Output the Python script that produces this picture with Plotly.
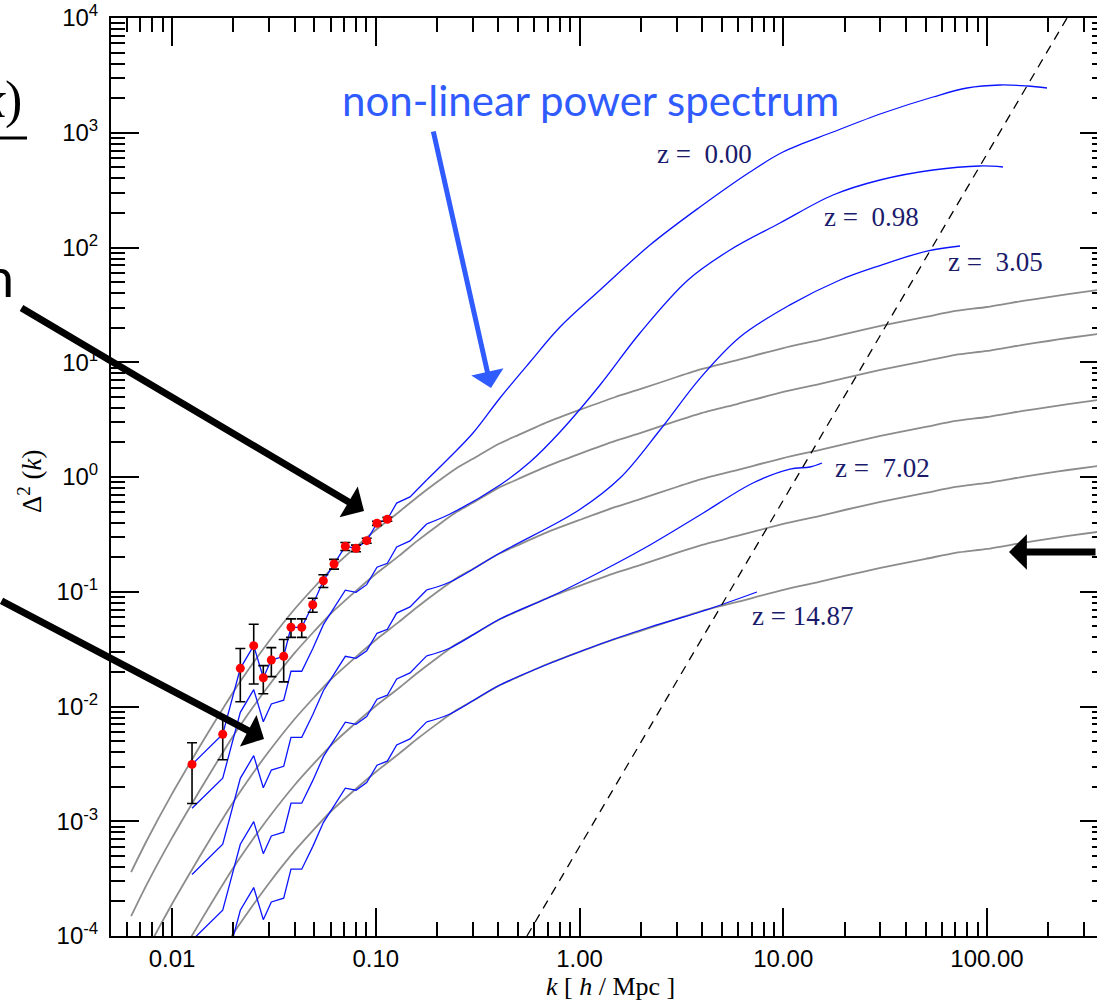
import plotly.graph_objects as go

# ---------------- data ----------------
# measured z=0 band powers with 1-sigma errors
data_k = [0.01254, 0.01774, 0.02164, 0.02518, 0.02806, 0.03073, 0.03533, 0.03837, 0.04332,
          0.04906, 0.05531, 0.0624, 0.0709, 0.0800, 0.0903, 0.1014, 0.1140]
data_d = [0.00313, 0.00573, 0.0215, 0.0339, 0.0178, 0.0254, 0.0274, 0.0490, 0.0490,
          0.0771, 0.1248, 0.1745, 0.249, 0.239, 0.2786, 0.395, 0.428]
data_err = [0.0017, 0.0023, 0.0105, 0.0182, 0.0049, 0.0072, 0.011, 0.009, 0.009,
            0.0108, 0.0158, 0.017, 0.020, 0.016, 0.014, 0.016, 0.017]

# low-k wavenumbers shared by the non-linear curves (jagged part)
nl_k_low = data_k + [0.1267, 0.1473, 0.1778]

# non-linear spectra (blue): jagged low-k part + smooth high-k part
nl_k_z000 = nl_k_low + [0.2314, 0.3001, 0.4072, 0.5715, 0.8023, 1.261, 2.218, 3.903, 6.867, 9.97,
                        17.55, 30.88, 54.33, 79.8, 115.8, 157.1, 197.0]
nl_d_z000 = data_d + [0.593, 0.670, 0.942] + [1.494, 2.418, 4.882, 10.05, 20.28, 42.62, 105.1, 225.4,
                                              455.0, 679.5, 1015, 1486, 2049, 2455, 2607, 2555, 2455]

nl_k_z098 = nl_k_low + [0.2314, 0.4072, 0.5715, 0.8023, 1.261, 1.981, 3.408, 5.479, 9.638, 17.55,
                        29.84, 54.33, 92.4, 119.8]
nl_d_z098 = [0.001296, 0.002372, 0.00890, 0.01403, 0.00737, 0.01052, 0.01134, 0.02029, 0.02029,
             0.03192, 0.05167, 0.07224, 0.1031, 0.09895, 0.1153, 0.1635, 0.1772, 0.2455, 0.2774,
             0.390, 0.476, 0.852, 1.351, 2.467, 6.334, 17.98, 52.1, 95.1, 163.5, 286.8, 387.5,
             473.6, 513.2, 502.9]

nl_k_z305 = nl_k_low + [0.2314, 0.4072, 0.9943, 1.581, 2.484, 3.903, 6.134, 10.79, 18.99, 29.84,
                        50.76, 73.7]
nl_d_z305 = [3.44e-4, 6.30e-4, 2.365e-3, 3.73e-3, 1.958e-3, 2.794e-3, 3.014e-3, 5.39e-3, 5.39e-3,
             8.48e-3, 0.01373, 0.01920, 0.02739, 0.02629, 0.03065, 0.04345, 0.04708, 0.0652,
             0.0737, 0.1036, 0.1216, 0.2177, 0.5158, 0.980, 2.568, 7.24, 16.6, 31.6, 52.1,
             69.6, 93.2, 103.1]

nl_k_z702 = nl_k_low + [0.2314, 0.4072, 0.7167, 1.261, 2.218, 3.903, 7.103, 10.79, 13.53, 15.5]
nl_d_z702 = [9.17e-5, 1.679e-4, 6.30e-4, 9.93e-4, 5.22e-4, 7.44e-4, 8.03e-4, 1.436e-3, 1.436e-3,
             2.259e-3, 3.657e-3, 5.11e-3, 7.30e-3, 7.00e-3, 8.16e-3, 0.01157, 0.01254, 0.01737,
             0.01963, 0.0276, 0.03234, 0.0579, 0.090, 0.1487, 0.2555, 0.4665, 0.8865, 1.174,
             1.222, 1.324]

nl_k_z1487 = nl_k_low + [0.2314, 0.4072, 0.9943, 2.218, 3.903, 7.43]
nl_d_z1487 = [2.44e-5, 4.47e-5, 1.677e-4, 2.644e-4, 1.388e-4, 1.981e-4, 2.137e-4, 3.822e-4,
              3.822e-4, 6.01e-4, 9.73e-4, 1.361e-3, 1.942e-3, 1.864e-3, 2.173e-3, 3.081e-3,
              3.338e-3, 4.625e-3, 5.226e-3, 7.35e-3, 0.0086, 0.0154, 0.02985, 0.0493, 0.06661,
              0.0995]

# linear spectra (grey)
lin_k = [0.0063, 0.0075, 0.01, 0.0125, 0.015, 0.02, 0.025, 0.03, 0.04, 0.05, 0.06, 0.08, 0.1,
         0.13, 0.16, 0.2, 0.25, 0.3, 0.4, 0.5, 0.7, 1, 1.5, 2, 3, 4, 6, 10, 15, 20, 30, 50, 70,
         100, 150, 200, 250, 350]
lin_d_z000 = [3.61e-4, 6.73e-4, 1.73e-3, 3.42e-3, 5.88e-3, 0.0134, 0.0239, 0.0372, 0.0707, 0.110,
              0.155, 0.246, 0.345, 0.496, 0.670, 0.905, 1.20, 1.44, 1.94, 2.32, 3.02, 3.84, 4.98,
              5.85, 7.44, 8.74, 10.5, 13.3, 15.6, 17.6, 20.7, 24.8, 28.0, 30.3, 34.2, 37.0, 39.3,
              42.6]
lin_d_z098 = [1.49e-4, 2.79e-4, 7.16e-4, 1.416e-3, 2.43e-3, 5.55e-3, 9.89e-3, 0.0154, 0.0293,
              0.0455, 0.0642, 0.1018, 0.1428, 0.2053, 0.2774, 0.3747, 0.4968, 0.5962, 0.8032,
              0.9605, 1.250, 1.590, 2.062, 2.422, 3.080, 3.618, 4.347, 5.506, 6.458, 7.286, 8.570,
              10.27, 11.59, 12.54, 14.16, 15.32, 16.27, 17.64]
lin_d_z305 = [3.97e-5, 7.40e-5, 1.90e-4, 3.76e-4, 6.47e-4, 1.47e-3, 2.63e-3, 4.09e-3, 7.78e-3,
              0.0121, 0.0171, 0.0271, 0.0380, 0.0546, 0.0737, 0.0996, 0.132, 0.158, 0.213, 0.255,
              0.332, 0.422, 0.548, 0.644, 0.818, 0.961, 1.155, 1.463, 1.716, 1.936, 2.277, 2.728,
              3.08, 3.333, 3.762, 4.07, 4.323, 4.686]
lin_d_z702 = [1.06e-5, 1.97e-5, 5.07e-5, 1.00e-4, 1.72e-4, 3.93e-4, 7.00e-4, 1.09e-3, 2.07e-3,
              3.22e-3, 4.54e-3, 7.21e-3, 0.0101, 0.0145, 0.0196, 0.0265, 0.0352, 0.0422, 0.0568,
              0.0680, 0.0885, 0.1125, 0.1459, 0.1714, 0.218, 0.256, 0.3077, 0.3897, 0.4571,
              0.5157, 0.6065, 0.7266, 0.8204, 0.8878, 1.002, 1.084, 1.151, 1.248]
lin_d_z1487 = [2.82e-6, 5.25e-6, 1.35e-5, 2.67e-5, 4.59e-5, 1.05e-4, 1.86e-4, 2.90e-4, 5.51e-4,
               8.58e-4, 1.21e-3, 1.92e-3, 2.69e-3, 3.87e-3, 5.23e-3, 7.06e-3, 9.36e-3, 0.01123,
               0.01513, 0.0181, 0.02356, 0.02995, 0.03884, 0.04563, 0.05803, 0.06817, 0.0819,
               0.1037, 0.1217, 0.1373, 0.1615, 0.1934, 0.2184, 0.2363, 0.2668, 0.2886, 0.3065,
               0.3323]

# shot-noise line (dashed)
shot_k = [0.552, 247.0]
shot_d = [1.0e-4, 1.0e4]

# labels
z_labels = ["z =  0.00", "z =  0.98", "z =  3.05", "z =  7.02", "z = 14.87"]

x_tick_vals = [0.01, 0.1, 1, 10, 100]
x_tick_text = ["0.01", "0.10", "1.00", "10.00", "100.00"]
y_tick_vals = [1e-4, 1e-3, 1e-2, 1e-1, 1e0, 1e1, 1e2, 1e3, 1e4]
y_tick_text = ["10<sup>-4</sup>", "10<sup>-3</sup>", "10<sup>-2</sup>", "10<sup>-1</sup>",
               "10<sup>0</sup>", "10<sup>1</sup>", "10<sup>2</sup>", "10<sup>3</sup>",
               "10<sup>4</sup>"]
x_minor = [m * 10.0 ** e for e in range(-3, 3) for m in range(2, 10)]
y_minor = [m * 10.0 ** e for e in range(-4, 4) for m in range(2, 10)]

# ---------------- layout geometry ----------------
W, H = 1097, 1004
L, T, B = 111, 18, 68
PW = W - L
PH = H - T - B
N_LOW = len(nl_k_low)


def paper(xp, yp):
    return (xp - L) / PW, (H - B - yp) / PH


BLUE = "#0a14ff"
GREY = "#8c8c8c"
NAVY = "#1b1b6b"
TITLE_BLUE = "#2f5bff"
SERIF = "Liberation Serif"
SANS = "Liberation Sans"

fig = go.Figure()

for d in [lin_d_z000, lin_d_z098, lin_d_z305, lin_d_z702, lin_d_z1487]:
    fig.add_trace(go.Scatter(x=lin_k, y=d, mode="lines",
                             line=dict(color=GREY, width=1.8, shape="spline", smoothing=0.6),
                             hoverinfo="skip"))

for k, d in [(nl_k_z000, nl_d_z000), (nl_k_z098, nl_d_z098), (nl_k_z305, nl_d_z305),
             (nl_k_z702, nl_d_z702), (nl_k_z1487, nl_d_z1487)]:
    # jagged, noisy low-k part
    fig.add_trace(go.Scatter(x=k[:N_LOW], y=d[:N_LOW], mode="lines",
                             line=dict(color=BLUE, width=1.3), hoverinfo="skip"))
    # smooth high-k part
    fig.add_trace(go.Scatter(x=k[N_LOW - 1:], y=d[N_LOW - 1:], mode="lines",
                             line=dict(color=BLUE, width=1.3, shape="spline", smoothing=1.0),
                             hoverinfo="skip"))

fig.add_trace(go.Scatter(x=shot_k, y=shot_d, mode="lines",
                         line=dict(color="black", width=1.3, dash="9px,7px")))

fig.add_trace(go.Scatter(x=data_k, y=data_d, mode="markers",
                         marker=dict(color="#ff0000", size=9),
                         error_y=dict(type="data", array=data_err, visible=True,
                                      color="black", thickness=1.6, width=5)))

# invisible trace carrying the right-hand tick axis
fig.add_trace(go.Scatter(x=[1], y=[1], yaxis="y2", mode="markers",
                         marker=dict(opacity=0), hoverinfo="skip"))

tick_font = dict(family=SANS, size=24, color="black")
fig.update_layout(
    width=W, height=H, margin=dict(l=L, r=0, t=T, b=B),
    plot_bgcolor="white", paper_bgcolor="white", showlegend=False,
    xaxis=dict(type="log", range=[-2.2994, 2.5399], showline=True, linecolor="black",
               linewidth=2, mirror="ticks", ticks="inside", ticklen=28, tickwidth=1.8,
               tickcolor="black", tickmode="array", tickvals=x_tick_vals,
               ticktext=x_tick_text, tickfont=tick_font, showgrid=False, zeroline=False,
               ticklabelstandoff=0,
               minor=dict(tickmode="array", tickvals=x_minor, ticks="inside", ticklen=14,
                          tickwidth=1.8, tickcolor="black", showgrid=False)),
    yaxis=dict(type="log", range=[-4, 4], showline=True, linecolor="black", linewidth=2,
               mirror=False, ticks="inside", ticklen=28, tickwidth=1.8, tickcolor="black",
               tickmode="array", tickvals=y_tick_vals, ticktext=y_tick_text,
               tickfont=tick_font, showgrid=False, zeroline=False, ticklabelstandoff=6,
               minor=dict(tickmode="array", tickvals=y_minor, ticks="inside", ticklen=14,
                          tickwidth=1.8, tickcolor="black", showgrid=False)),
    yaxis2=dict(type="log", range=[-4, 4], overlaying="y", side="right", showline=False,
                ticks="inside", ticklen=17, tickwidth=1.8, tickcolor="black",
                tickmode="array", tickvals=y_tick_vals, showticklabels=False,
                showgrid=False, zeroline=False,
                minor=dict(tickmode="array", tickvals=y_minor, ticks="inside", ticklen=5,
                           tickwidth=1.8, tickcolor="black", showgrid=False)),
)

ann = []


def text_at(xp, yp, txt, size, color="black", family=SERIF, xanchor="center", angle=0):
    x, y = paper(xp, yp)
    ann.append(dict(x=x, y=y, xref="paper", yref="paper", text=txt, showarrow=False,
                    xanchor=xanchor, yanchor="middle", textangle=angle,
                    font=dict(family=family, size=size, color=color)))


def arrow(tail, tip, color, width, size):
    x, y = paper(*tip)
    ann.append(dict(x=x, y=y, xref="paper", yref="paper", text="", showarrow=True,
                    ax=tail[0] - tip[0], ay=tail[1] - tip[1], axref="pixel", ayref="pixel",
                    arrowhead=1, arrowsize=size, arrowwidth=width, arrowcolor=color,
                    standoff=0))


# axis titles
text_at(610, 986, "<i>k</i> [ <i>h</i> / Mpc ]", 26)
text_at(30, 481, "Δ<sup>2</sup> (<i>k</i>)", 27, angle=-90)

# redshift labels
for (xp, yp), lab in zip([(704, 154), (871, 217), (995, 262), (882, 468), (802, 616)], z_labels):
    text_at(xp, yp, lab, 27, color=NAVY)

# blue title and arrow
text_at(590, 100, "non-linear power spectrum", 42, color=TITLE_BLUE, family="Lato")
arrow((433, 130), (491, 388), TITLE_BLUE, 5, 1.1)

# black arrows from the surrounding slide
arrow((20, 307), (364, 511), "black", 7, 0.85)
arrow((-10, 600), (264, 739), "black", 7, 0.85)
arrow((1110, 552), (1009, 552), "black", 7, 0.85)

# cut-off slide text at the left edge
text_at(16, 276, "n", 54, family="Lato", xanchor="right")
text_at(24, 100, "<i>k</i>)", 52, xanchor="right")

fig.update_layout(annotations=ann)

x0, y0 = paper(0, 138)
x1, _ = paper(27, 138)
fig.add_shape(type="line", xref="paper", yref="paper", x0=x0, y0=y0, x1=x1, y1=y0,
              line=dict(color="black", width=3))

fig.write_html("out.html")
